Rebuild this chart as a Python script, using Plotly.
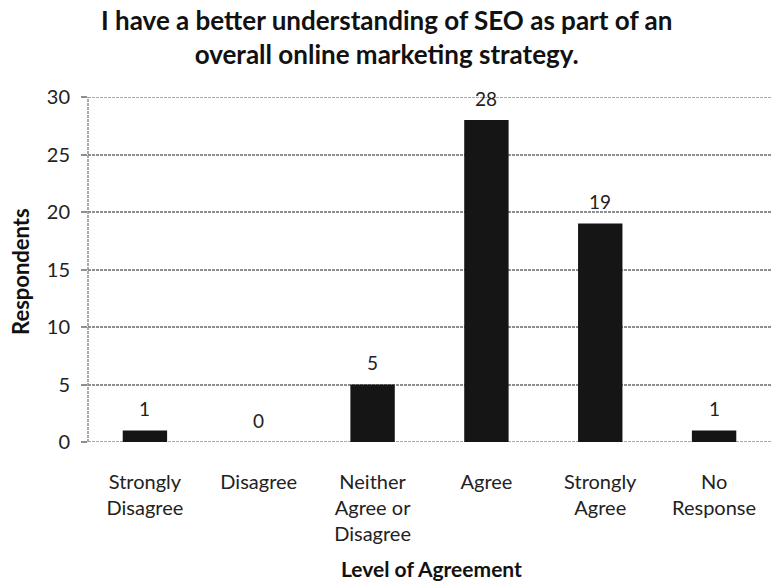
import plotly.graph_objects as go

categories = ["Strongly<br>Disagree", "Disagree", "Neither<br>Agree or<br>Disagree",
              "Agree", "Strongly<br>Agree", "No<br>Response"]
respondents = [1, 0, 5, 28, 19, 1]
y_ticks = [0, 5, 10, 15, 20, 25, 30]
y_max = 30

FONT = "Lato, 'Open Sans', sans-serif"
W, H = 771, 582
M_L, M_R, M_T, M_B = 88, 0, 97, 140
PLOT_H = H - M_T - M_B
GRID = "#8f8f8f"


def py(px_from_top):
    """Convert a pixel row of the page into paper y coordinates."""
    return (H - M_B - px_from_top) / PLOT_H


fig = go.Figure(go.Bar(
    x=categories,
    y=respondents,
    marker=dict(color="#151515", line=dict(width=0)),
    width=0.39,
    cliponaxis=False,
))

# value labels above each bar
for cat, val in zip(categories, respondents):
    fig.add_annotation(
        x=cat, y=val, xref="x", yref="y", text=str(val),
        showarrow=False, yanchor="middle", yshift=22,
        font=dict(family=FONT, size=19, color="#222222"),
    )

# dashed frame lines: top and bottom gridlines and the left axis
for yv in (0, y_max):
    fig.add_shape(type="line", xref="paper", yref="y", x0=0, x1=1, y0=yv, y1=yv,
                  line=dict(color=GRID, width=1.5, dash="3px,1px"), layer="below")
fig.add_shape(type="line", xref="paper", yref="y", x0=0, x1=0, y0=0, y1=y_max,
              line=dict(color=GRID, width=1.5, dash="3px,1px"), layer="below")

fig.add_annotation(
    text="<b>I have a better understanding of SEO as part of an<br>overall online marketing strategy.</b>",
    xref="paper", yref="paper", x=(386 - M_L) / (W - M_L - M_R), y=py(37),
    xanchor="center", yanchor="middle", showarrow=False,
    font=dict(family=FONT, size=26, color="#111111"),
)
fig.add_annotation(
    text="<b>Respondents</b>", textangle=-90,
    xref="paper", yref="paper", x=-(M_L - 20) / (W - M_L - M_R), y=py(272),
    xanchor="center", yanchor="middle", showarrow=False,
    font=dict(family=FONT, size=22, color="#111111"),
)
fig.add_annotation(
    text="<b>Level of Agreement</b>",
    xref="paper", yref="paper", x=(431 - M_L) / (W - M_L - M_R), y=py(568),
    xanchor="center", yanchor="middle", showarrow=False,
    font=dict(family=FONT, size=21, color="#111111"),
)

fig.update_layout(
    width=W, height=H,
    margin=dict(l=M_L, r=M_R, t=M_T, b=M_B),
    paper_bgcolor="white", plot_bgcolor="white",
    showlegend=False,
    bargap=0.6,
)

fig.update_yaxes(
    range=[0, y_max], tickvals=y_ticks,
    showgrid=True, gridcolor=GRID, griddash="3px,1px", gridwidth=1.5,
    zeroline=False, showline=False,
    ticks="outside", ticklen=6, tickcolor=GRID, tickwidth=1.5,
    ticklabelstandoff=7,
    tickfont=dict(family=FONT, size=20, color="#222222"),
)

fig.update_xaxes(
    showgrid=False, showline=False, zeroline=False,
    tickfont=dict(family=FONT, size=20, color="#222222"),
    ticks="outside", ticklen=22, tickcolor="rgba(0,0,0,0)",
)

fig.write_html("out.html")
